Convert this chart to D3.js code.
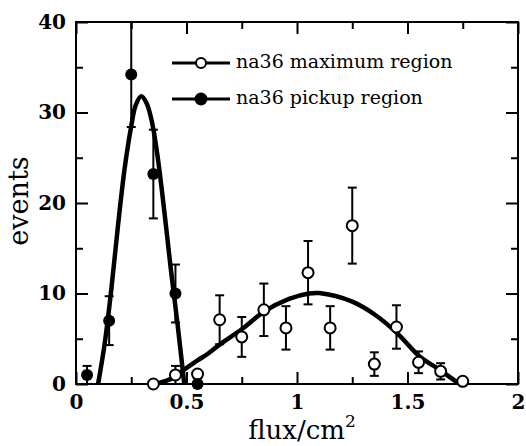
<!DOCTYPE html>
<html>
<head>
<meta charset="utf-8">
<script src="https://cdn.jsdelivr.net/npm/d3@7"></script>
<style>
  html, body { margin: 0; padding: 0; background: #fff; }
  svg { display: block; }
</style>
</head>
<body>
<svg id="chart" width="526" height="446"></svg>
<script>
// ---- data ----
const pickupX   = [0.05, 0.15, 0.25, 0.35, 0.45, 0.55];
const pickupY   = [1.0, 7.0, 34.2, 23.2, 10.0, 0.0];
const pickupErr = [1.0, 2.7, 5.8, 4.9, 3.2, 0.0];

const maxX   = [0.35, 0.45, 0.55, 0.65, 0.75, 0.85, 0.95, 1.05, 1.15, 1.25, 1.35, 1.45, 1.55, 1.65, 1.75];
const maxY   = [0.0, 1.0, 1.1, 7.1, 5.2, 8.2, 6.2, 12.3, 6.2, 17.5, 2.2, 6.3, 2.4, 1.4, 0.3];
const maxErr = [0.0, 1.0, 0.0, 2.7, 2.2, 2.9, 2.4, 3.5, 2.4, 4.2, 1.3, 2.4, 1.2, 0.9, 0.0];

const pickupCurveX = [0.10, 0.13, 0.16, 0.19, 0.22, 0.25, 0.27, 0.295, 0.32, 0.345, 0.37, 0.40, 0.43, 0.46, 0.49];
const pickupCurveY = [0.0, 4.5, 10.5, 17.5, 23.8, 28.5, 30.8, 31.8, 31.0, 28.8, 25.0, 19.0, 12.5, 6.5, 0.0];

const maxCurveX = [0.35, 0.40, 0.45, 0.48, 0.55, 0.60, 0.647, 0.753, 0.851, 0.964, 1.054, 1.10, 1.25, 1.356, 1.454, 1.552, 1.65, 1.72, 1.75];
const maxCurveY = [0.0, 0.3, 0.8, 1.4, 2.6, 3.4, 4.3, 6.1, 8.0, 9.4, 10.0, 10.05, 9.1, 7.6, 5.6, 3.1, 1.5, 0.3, 0.0];

const xMajorTicks = [0, 0.5, 1, 1.5, 2];
const xMinorTicks = [0.25, 0.75, 1.25, 1.75];
const yMajorTicks = [0, 10, 20, 30, 40];
const yMinorTicks = [5, 15, 25, 35];

const legendLabels = ["na36 maximum region", "na36 pickup region"];
const xTitle = "flux/cm";
const xTitleSup = "2";
const yTitle = "events";

// ---- layout ----
const svg = d3.select("#chart");
const L = 76, R = 518, T = 22, B = 384;
const x = d3.scaleLinear().domain([0, 2]).range([L, R]);
const y = d3.scaleLinear().domain([0, 40]).range([B, T]);
const FONT = "'DejaVu Serif', 'Liberation Serif', serif";

function styleAxis(g, showText) {
  g.select(".domain").remove();
  g.selectAll(".tick line").attr("stroke", "#000").attr("stroke-width", 2);
  g.selectAll(".tick text")
    .attr("fill", "#000")
    .attr("font-family", FONT)
    .attr("font-size", 20)
    .attr("font-weight", "bold")
    .style("display", showText ? null : "none");
}

const fmt = d => d === 0 ? "0" : String(d);
svg.append("g").attr("transform", `translate(0,${B})`)
  .call(d3.axisBottom(x).tickValues(xMajorTicks).tickSizeInner(-12).tickSizeOuter(0).tickPadding(11).tickFormat(fmt))
  .call(g => styleAxis(g, true));
svg.append("g").attr("transform", `translate(0,${B})`)
  .call(d3.axisBottom(x).tickValues(xMinorTicks).tickSizeInner(-7).tickSizeOuter(0).tickFormat(""))
  .call(g => styleAxis(g, false));
svg.append("g").attr("transform", `translate(0,${T})`)
  .call(d3.axisTop(x).tickValues(xMajorTicks).tickSizeInner(-12).tickSizeOuter(0).tickFormat(""))
  .call(g => styleAxis(g, false));
svg.append("g").attr("transform", `translate(0,${T})`)
  .call(d3.axisTop(x).tickValues(xMinorTicks).tickSizeInner(-7).tickSizeOuter(0).tickFormat(""))
  .call(g => styleAxis(g, false));

svg.append("g").attr("transform", `translate(${L},0)`)
  .call(d3.axisLeft(y).tickValues(yMajorTicks).tickSizeInner(-12).tickSizeOuter(0).tickPadding(10))
  .call(g => styleAxis(g, true));
svg.append("g").attr("transform", `translate(${L},0)`)
  .call(d3.axisLeft(y).tickValues(yMinorTicks).tickSizeInner(-7).tickSizeOuter(0).tickFormat(""))
  .call(g => styleAxis(g, false));
svg.append("g").attr("transform", `translate(${R},0)`)
  .call(d3.axisRight(y).tickValues(yMajorTicks).tickSizeInner(-12).tickSizeOuter(0).tickFormat(""))
  .call(g => styleAxis(g, false));
svg.append("g").attr("transform", `translate(${R},0)`)
  .call(d3.axisRight(y).tickValues(yMinorTicks).tickSizeInner(-7).tickSizeOuter(0).tickFormat(""))
  .call(g => styleAxis(g, false));

// frame
svg.append("rect")
  .attr("x", L).attr("y", T).attr("width", R - L).attr("height", B - T)
  .attr("fill", "none").attr("stroke", "#000").attr("stroke-width", 2);

// axis titles
const xt = svg.append("text")
  .attr("x", 302).attr("y", 439)
  .attr("text-anchor", "middle")
  .attr("font-family", FONT).attr("font-size", 26).attr("fill", "#000")
  .text(xTitle);
xt.append("tspan").attr("dy", -12).attr("font-size", 17).text(xTitleSup);

svg.append("text")
  .attr("transform", "translate(28,201) rotate(-90)")
  .attr("text-anchor", "middle")
  .attr("font-family", FONT).attr("font-size", 27).attr("fill", "#000")
  .text(yTitle);

// ---- data layer ----
const plot = svg.append("g");
const capW = 4.5;

function errorBars(xs, ys, es) {
  const idx = d3.range(xs.length).filter(i => es[i] > 0);
  const g = plot.append("g").attr("stroke", "#000").attr("stroke-width", 2);
  g.selectAll("line.v").data(idx).join("line")
    .attr("x1", i => x(xs[i])).attr("x2", i => x(xs[i]))
    .attr("y1", i => y(Math.max(0, ys[i] - es[i])))
    .attr("y2", i => y(Math.min(40, ys[i] + es[i])));
  g.selectAll("line.top").data(idx.filter(i => ys[i] + es[i] < 40)).join("line")
    .attr("x1", i => x(xs[i]) - capW).attr("x2", i => x(xs[i]) + capW)
    .attr("y1", i => y(ys[i] + es[i])).attr("y2", i => y(ys[i] + es[i]));
  g.selectAll("line.bot").data(idx.filter(i => ys[i] - es[i] > 0)).join("line")
    .attr("x1", i => x(xs[i]) - capW).attr("x2", i => x(xs[i]) + capW)
    .attr("y1", i => y(ys[i] - es[i])).attr("y2", i => y(ys[i] - es[i]));
}
errorBars(pickupX, pickupY, pickupErr);
errorBars(maxX, maxY, maxErr);

const line = d3.line().x(d => x(d[0])).y(d => y(d[1])).curve(d3.curveCatmullRom.alpha(0.5));
plot.append("path")
  .datum(d3.zip(pickupCurveX, pickupCurveY))
  .attr("d", line).attr("fill", "none").attr("stroke", "#000")
  .attr("stroke-width", 4.5).attr("stroke-linejoin", "round");
plot.append("path")
  .datum(d3.zip(maxCurveX, maxCurveY))
  .attr("d", line).attr("fill", "none").attr("stroke", "#000")
  .attr("stroke-width", 4.5).attr("stroke-linejoin", "round");

plot.append("g").selectAll("circle").data(d3.zip(maxX, maxY)).join("circle")
  .attr("cx", d => x(d[0])).attr("cy", d => y(d[1])).attr("r", 5.5)
  .attr("fill", "#fff").attr("stroke", "#000").attr("stroke-width", 2);
plot.append("g").selectAll("circle").data(d3.zip(pickupX, pickupY)).join("circle")
  .attr("cx", d => x(d[0])).attr("cy", d => y(d[1])).attr("r", 6)
  .attr("fill", "#000");

// ---- legend ----
const legendRows = [{label: legendLabels[0], filled: false, y: 63},
                    {label: legendLabels[1], filled: true, y: 99}];
const lg = svg.append("g").selectAll("g").data(legendRows).join("g");
lg.append("line").attr("x1", 172).attr("x2", 230)
  .attr("y1", d => d.y).attr("y2", d => d.y)
  .attr("stroke", "#000").attr("stroke-width", 3);
lg.append("circle").attr("cx", 201).attr("cy", d => d.y).attr("r", d => d.filled ? 5.5 : 5)
  .attr("fill", d => d.filled ? "#000" : "#fff").attr("stroke", "#000").attr("stroke-width", 2);
lg.append("text").attr("x", 236).attr("y", d => d.y + 5)
  .attr("font-family", FONT).attr("font-size", 19).attr("fill", "#000")
  .text(d => d.label);
</script>
</body>
</html>
